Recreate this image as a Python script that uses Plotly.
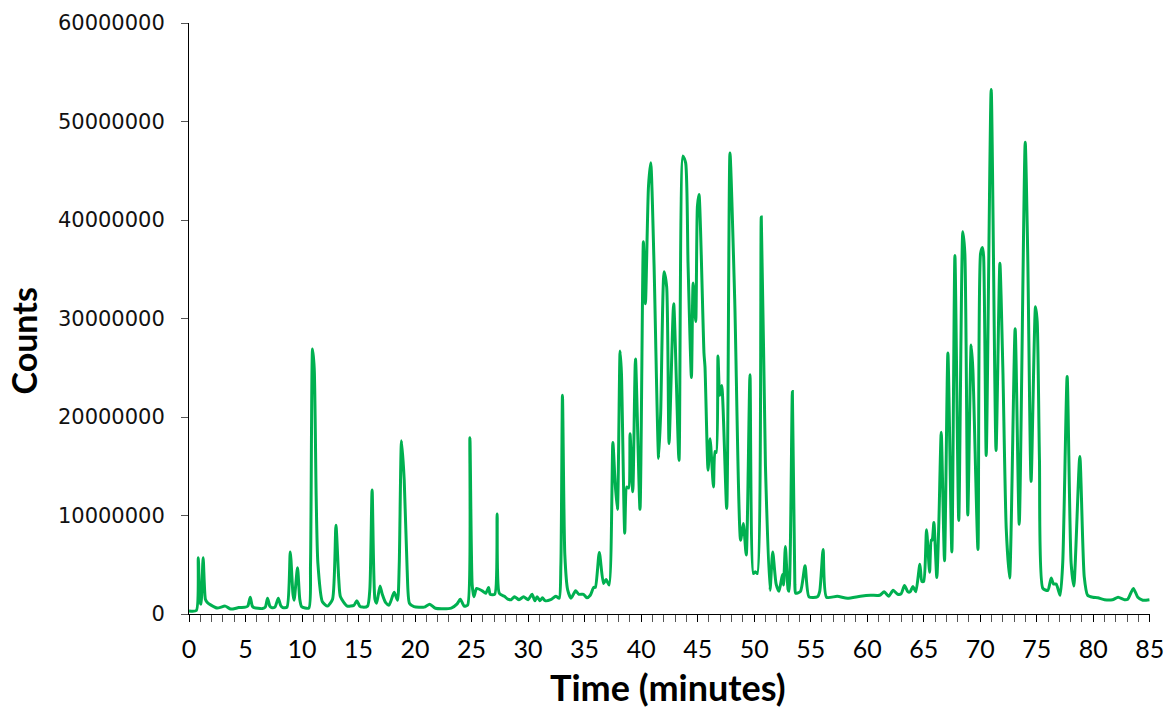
import plotly.graph_objects as go

time_min = [0.0, 0.65, 0.82, 0.98, 1.06, 1.25, 1.45, 1.6, 1.95, 2.5, 3.2, 3.7, 4.4, 5.0, 5.2, 5.42, 5.6, 5.75,
            6.5, 6.75, 6.95, 7.15, 7.3, 7.6, 7.9, 8.1, 8.3, 8.67, 8.96, 9.2, 9.3, 9.6, 9.8, 9.96, 10.6, 10.75,
            10.93, 11.08, 11.25, 11.4, 11.8, 12.26, 12.7, 13.0, 13.25, 13.4, 14.0, 14.6, 14.85, 15.1, 15.35,
            15.8, 16.0, 16.2, 16.45, 16.6, 16.9, 17.1, 17.4, 17.7, 18.15, 18.45, 18.6, 18.8, 19.04, 19.3, 19.5,
            19.9, 20.8, 21.3, 21.8, 23.2, 23.7, 24.0, 24.35, 24.65, 24.85, 25.05, 25.2, 25.45, 25.95, 26.25,
            26.5, 26.65, 27.05, 27.26, 27.45, 27.9, 28.2, 28.5, 28.8, 29.2, 29.6, 30.0, 30.35, 30.6, 30.8,
            31.05, 31.27, 31.5, 32.0, 32.45, 32.75, 32.9, 33.04, 33.25, 33.5, 33.8, 34.2, 34.5, 34.9, 35.2,
            35.5, 35.8, 35.95, 36.3, 36.67, 36.9, 37.17, 37.5, 37.7, 37.9, 38.14, 38.26, 38.55, 38.73, 38.9,
            39.02, 39.26, 39.5, 39.9, 40.2, 40.38, 40.65, 40.85, 41.14, 41.55, 41.73, 42.03, 42.26, 42.47,
            42.88, 43.35, 43.7, 43.94, 44.15, 44.45, 44.6, 44.83, 44.98, 45.12, 45.56, 45.65, 45.92, 46.1,
            46.4, 46.53, 46.65, 46.8, 46.95, 47.13, 47.57, 47.86, 48.28, 48.8, 49.04, 49.3, 49.63, 49.93,
            50.1, 50.28, 50.63, 51.0, 51.4, 51.64, 51.95, 52.2, 52.5, 52.6, 52.76, 53.0, 53.08, 53.38, 53.6,
            53.67, 54.1, 54.5, 54.85, 55.6, 55.8, 56.1, 56.4, 57.35, 58.25, 59.4, 60.3, 61.1, 61.5, 61.9,
            62.3, 62.7, 63.0, 63.3, 63.6, 63.8, 64.04, 64.3, 64.66, 64.84, 65.0, 65.25, 65.52, 65.67, 65.75,
            65.9, 66.16, 66.34, 66.55, 66.84, 67.14, 67.49, 67.76, 68.1, 68.46, 68.64, 68.9, 69.2, 69.35,
            69.8, 70.03, 70.2, 70.3, 70.53, 70.97, 71.4, 71.74, 72.0, 72.3, 72.6, 73.09, 73.45, 73.98, 74.2,
            74.5, 74.89, 75.04, 75.24, 75.54, 75.98, 76.28, 76.48, 76.72, 77.07, 77.3, 77.69, 78.04, 78.28,
            78.81, 79.2, 79.5, 79.96, 80.4, 81.0, 81.7, 82.2, 82.76, 83.05, 83.55, 83.94, 84.38, 84.97]

counts_millions = [0.3, 0.35, 5.7, 1.2, 1.0, 5.7, 1.5, 1.2, 0.9, 0.6, 0.8, 0.5, 0.65, 0.7, 0.8, 1.7, 0.8, 0.65,
                   0.55, 0.7, 1.6, 0.8, 0.65, 0.7, 1.6, 0.9, 0.65, 0.7, 6.3, 2.0, 1.4, 4.7, 1.5, 0.75, 0.6, 5.0,
                   26.9, 24.9, 12.0, 5.2, 1.25, 0.8, 1.5, 9.0, 3.5, 1.75, 0.8, 0.9, 1.35, 0.8, 0.7,
                   0.8, 2.5, 12.6, 1.5, 1.1, 2.85, 2.0, 1.15, 0.9, 2.2, 1.4, 5.0, 17.6, 13.6, 4.5, 1.1,
                   0.75, 0.7, 1.0, 0.58, 0.6, 1.0, 1.5, 0.8, 0.9, 17.9, 3.0, 1.75, 2.6, 2.35, 2.1,
                   2.7, 2.0, 2.0, 10.15, 2.1, 1.8, 1.5, 1.45, 1.75, 1.45, 1.75, 1.45, 2.0, 1.35, 1.75,
                   1.35, 1.65, 1.35, 1.45, 1.8, 1.6, 5.0, 22.2, 6.0, 2.45, 1.6, 2.35, 2.0, 2.0, 1.65,
                   1.9, 2.7, 2.7, 6.25, 3.1, 3.5, 2.95, 17.4, 13.3, 10.6, 26.7, 24.4, 8.2, 12.9, 12.8,
                   18.3, 12.4, 25.9, 10.6, 37.8, 31.5, 43.4, 45.8, 35.6, 15.8, 20.4, 34.75, 33.2, 17.3,
                   31.5, 15.6, 46.5, 45.8, 35.6, 24.0, 33.6, 29.7, 41.4, 42.6, 26.5, 25.1, 14.6, 17.8,
                   12.9, 16.5, 16.4, 26.2, 22.2, 23.2, 10.7, 46.8, 31.9, 7.5, 9.2, 6.0, 24.3, 4.1,
                   4.3, 4.1, 40.3, 15.0, 2.4, 6.3, 3.0, 2.3, 4.0, 2.95, 6.85, 2.5, 2.3, 22.6, 3.0,
                   2.1, 2.3, 4.9, 1.75, 1.75, 2.3, 6.55, 1.7, 1.8, 1.6, 1.8, 1.9, 1.9, 2.25, 1.8,
                   2.4, 2.0, 2.05, 2.9, 2.25, 2.25, 2.8, 2.25, 5.05, 3.3, 3.3, 8.55, 4.25, 7.5, 7.5,
                   9.3, 3.7, 9.3, 18.45, 5.4, 26.5, 6.3, 36.4, 9.5, 38.8, 36.6, 10.05, 27.3, 24.8,
                   6.55, 36.6, 37.2, 36.3, 16.1, 53.26, 16.6, 35.6, 25.0, 8.7, 3.65, 28.96, 9.1, 47.9, 36.7,
                   13.45, 31.2, 29.7, 15.7, 2.6, 2.4, 3.65, 3.05, 3.05, 1.9, 5.2, 24.1, 5.2, 2.85,
                   16.0, 3.8, 1.9, 1.7, 1.65, 1.45, 1.45, 1.7, 1.45, 1.5, 2.6, 1.7, 1.4, 1.45]

counts = [v * 1e6 for v in counts_millions]

x_ticks = list(range(0, 90, 5))
y_ticks = [0, 10000000, 20000000, 30000000, 40000000, 50000000, 60000000]

fig = go.Figure()
fig.add_trace(go.Scatter(
    x=time_min, y=counts, mode="lines",
    line=dict(color="#00B050", width=3, shape="spline", smoothing=0.6),
    showlegend=False, hoverinfo="skip",
))

fig.update_layout(
    width=1164, height=708,
    margin=dict(l=189, r=14, t=23, b=94, autoexpand=False),
    paper_bgcolor="white", plot_bgcolor="white",
    showlegend=False,
)

fig.update_xaxes(
    range=[0, 85.02], tickvals=x_ticks, ticktext=[str(v) for v in x_ticks],
    showgrid=False, zeroline=False, automargin=False,
    showline=True, linecolor="black", linewidth=1,
    ticks="outside", ticklen=7, tickcolor="black", tickwidth=1,
    minor=dict(dtick=1, tick0=0, ticks="outside", ticklen=7, tickcolor="#555555", tickwidth=1, showgrid=False),
    tickfont=dict(family="Lato", size=25, color="black"),
    ticklabelstandoff=6,
    ticklabeloverflow="allow",
)
fig.update_yaxes(
    range=[0, 60000000], tickvals=y_ticks, ticktext=[str(v) for v in y_ticks],
    showgrid=False, zeroline=False, automargin=False,
    showline=True, linecolor="black", linewidth=1,
    ticks="outside", ticklen=7, tickcolor="#555555", tickwidth=1,
    tickfont=dict(family="DejaVu Sans", size=21, color="#111111"),
    ticklabelstandoff=12,
)

fig.add_annotation(text="<b>Counts</b>", xref="paper", yref="paper",
                   x=-0.1725, y=0.4615, xanchor="center", yanchor="middle",
                   textangle=-90, showarrow=False,
                   font=dict(family="Lato", size=34, color="black"))
fig.add_annotation(text="<b>Time (minutes)</b>", xref="paper", yref="paper",
                   x=0.4984, y=-0.123, xanchor="center", yanchor="middle",
                   showarrow=False,
                   font=dict(family="Lato", size=36, color="black"))

fig.write_html("out.html")
